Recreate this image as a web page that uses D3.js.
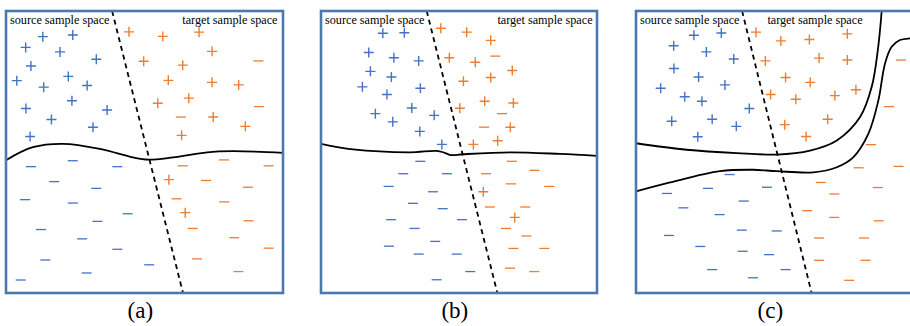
<!DOCTYPE html>
<html>
<head>
<meta charset="utf-8">
<script src="https://cdn.jsdelivr.net/npm/d3@7"></script>
<style>
  html, body { margin: 0; padding: 0; background: #fff; overflow: hidden; }
  svg { display: block; }
</style>
</head>
<body>
<svg id="chart" width="910" height="326"></svg>
<script>
// all coordinates are in a 0-100 "feature space" per panel (u right, v down)
const panelLabels = ["(a)", "(b)", "(c)"];

// ---- panel (a) ----
const aSrcPos = [[13.3,9.1],[24.1,8.5],[7.1,12.9],[19.5,14.5],[32.6,17.1],[9.0,19.5],[3.9,24.7],[22.5,23.2],
  [13.6,27.0],[29.3,26.4],[23.8,31.8],[7.2,34.6],[36.5,35.1],[16.4,38.5],[31.4,41.2],[8.7,44.5]];
const aSrcNeg = [[9.0,55.2],[24.1,53.1],[40.2,55.2],[17.4,60.5],[32.6,62.9],[6.9,66.9],[24.1,68.1],[43.9,71.9],
  [33.0,74.6],[12.6,77.5],[27.5,80.8],[40.2,84.5],[14.2,88.3],[51.7,90.0],[29.1,92.9],[5.3,95.4]];
const aTgtPos = [[44.4,7.4],[56.6,9.0],[69.7,7.5],[74.4,14.3],[49.7,17.8],[63.8,19.2],[58.6,24.6],[74.4,25.3],
  [84.0,26.2],[66.0,30.9],[54.8,32.7],[74.8,37.6],[86.4,40.9],[63.4,44.1],[58.8,59.8],[64.7,71.5]];
const aTgtNeg = [[91.1,17.7],[91.3,33.9],[63.1,37.6],[63.8,54.9],[78.7,52.8],[94.8,54.9],[72.2,60.1],[87.3,62.5],
  [61.6,66.6],[78.8,67.7],[87.6,74.4],[67.4,77.1],[82.4,80.4],[94.8,84.1],[69.0,87.9],[83.9,92.4]];
const aBoundaries = [
  [[0,52.9],[9.7,48.3],[20.6,47.1],[33.9,48.9],[45.8,51.9],[51.3,52.7],[60.3,51.9],[72.6,50.1],[81.9,49.7],[100,50.3]]
];
const aDomainSplit = [[38.3,0],[63.9,100]];

// ---- panel (b) ----
const bSrcPos = [[22.4,7.9],[30.2,7.7],[17.3,14.7],[26.4,16.6],[35.4,17.7],[17.9,21.4],[25.5,23.4],[15.0,26.9],
  [23.9,29.6],[36.0,27.4],[32.9,34.4],[19.7,36.4],[41.0,37.0],[26.0,39.3],[35.8,42.7],[43.8,47.3]];
const bSrcNeg = [[36.0,53.3],[29.8,57.7],[45.6,57.7],[24.5,62.2],[40.6,64.1],[33.3,68.2],[44.1,70.1],[25.4,74.0],
  [51.1,74.0],[33.9,77.1],[41.4,81.7],[24.6,83.4],[35.4,86.2],[49.2,86.2],[54.1,92.4],[41.9,95.3]];
const bTgtPos = [[43.4,6.1],[52.8,7.5],[61.5,10.4],[46.5,16.6],[55.9,18.2],[69.3,21.1],[51.6,24.9],[61.5,23.6],
  [59.3,32.0],[69.7,32.6],[50.3,34.5],[68.6,41.2],[64.0,46.0],[55.2,47.3],[58.8,64.1],[70.2,73.2]];
const bTgtNeg = [[63.2,16.0],[65.6,36.4],[59.1,41.2],[69.1,53.3],[77.3,56.5],[59.8,57.7],[68.8,61.3],[82.7,62.2],
  [61.2,69.5],[74.0,69.5],[67.0,77.1],[74.4,79.8],[69.7,84.2],[80.9,84.2],[68.5,91.2],[77.3,92.4]];
const bBoundaries = [
  [[0,47.1],[11.6,49.1],[32.2,50.1],[41.9,49.6],[44.6,50.2],[47.0,51.1],[51.4,50.8],[68.5,50.1],[86.6,50.7],[100,51.4]]
];
const bDomainSplit = [[38.3,0],[63.9,100]];

// ---- panel (c) ----
const cSrcPos = [[20.9,8.6],[30.8,7.8],[13.6,12.3],[25.4,14.5],[35.3,17.0],[13.7,20.4],[22.6,23.4],[8.9,27.4],
  [32.1,26.2],[17.6,30.4],[23.8,32.0],[40.9,34.6],[12.9,39.1],[27.5,38.4],[36.2,40.9],[22.3,44.6]];
const cSrcNeg = [[33.8,58.0],[11.2,64.7],[26.0,62.9],[47.3,62.5],[38.9,67.4],[17.1,69.8],[30.2,72.2],[38.2,77.7],
  [50.8,78.0],[11.9,79.6],[23.2,83.5],[38.5,85.2],[48.0,86.4],[27.5,91.7],[54.0,91.7],[42.2,94.6]];
const cTgtPos = [[43.3,7.5],[52.3,10.6],[62.6,10.1],[76.3,8.1],[46.7,17.7],[66.1,16.7],[76.3,17.4],[54.0,23.6],
  [62.9,25.3],[48.6,29.6],[57.7,31.3],[71.8,30.0],[79.4,27.9],[53.7,40.3],[69.2,38.4],[61.4,44.5]];
const cTgtNeg = [[95.7,17.4],[91.3,33.9],[84.8,47.4],[80.4,55.6],[94.8,55.1],[66.7,60.8],[71.6,64.9],[87.3,62.6],
  [61.8,70.8],[71.6,73.2],[87.6,74.4],[66.1,80.5],[82.3,80.5],[66.1,88.4],[82.9,88.4],[77.0,95.5]];
const cBoundaries = [
  [[0,46.9],[18.3,49.2],[36.4,50.4],[50.8,50.9],[62.8,49.5],[72.5,45.9],[80.9,37.6],[85.1,26.9],[87.3,13.9],[88.7,0]],
  [[0,64.0],[12.3,60.8],[30.3,56.8],[42.3,56.3],[50.8,56.8],[64.0,57.2],[72.5,55.4],[78.4,51.9],[83.9,43.5],
   [87.5,31.7],[89.9,18.6],[92.3,12.7],[95.3,10.3],[98.9,9.7],[101,9.6]]
];
const cDomainSplit = [[38.3,0],[63.4,100]];

const panels = [
  {left: 6,   width: 277, targetRight: 98,  srcPos: aSrcPos, srcNeg: aSrcNeg, tgtPos: aTgtPos, tgtNeg: aTgtNeg, curves: aBoundaries, split: aDomainSplit},
  {left: 321, width: 276, targetRight: 98.4, srcPos: bSrcPos, srcNeg: bSrcNeg, tgtPos: bTgtPos, tgtNeg: bTgtNeg, curves: bBoundaries, split: bDomainSplit},
  {left: 636, width: 277, targetRight: 81.8, srcPos: cSrcPos, srcNeg: cSrcNeg, tgtPos: cTgtPos, tgtNeg: cTgtNeg, curves: cBoundaries, split: cDomainSplit}
];

const svg = d3.select("#chart");
const frameTop = 11, frameH = 282;
const blue = "#4472c4", orange = "#ed7d31", frameColor = "#4a7aad";
const plusPath = "M-5,0H5M0,-5V5";
const minusPath = "M-5,0H5";
const serif = '"Liberation Serif", "Times New Roman", serif';

panels.forEach((p, i) => {
  const x = d3.scaleLinear().domain([0, 100]).range([p.left, p.left + p.width]);
  const y = d3.scaleLinear().domain([0, 100]).range([frameTop, frameTop + frameH]);
  const g = svg.append("g").attr("class", "panel");

  // points
  const marks = (data, path, color, sw) => g.append("g")
    .selectAll("path")
    .data(data)
    .join("path")
    .attr("transform", d => `translate(${x(d[0])},${y(d[1])})`)
    .attr("d", path)
    .attr("fill", "none")
    .attr("stroke", color)
    .attr("stroke-width", sw);

  marks(p.srcPos, plusPath, blue, 1.4);
  marks(p.tgtPos, plusPath, orange, 1.4);
  marks(p.srcNeg, minusPath, blue, 1.3);
  marks(p.tgtNeg, minusPath, orange, 1.3);

  // decision boundaries
  const line = d3.line().x(d => x(d[0])).y(d => y(d[1])).curve(d3.curveCatmullRom.alpha(0.5));
  g.selectAll(".boundary")
    .data(p.curves)
    .join("path")
    .attr("class", "boundary")
    .attr("d", line)
    .attr("fill", "none")
    .attr("stroke", "#000")
    .attr("stroke-width", 1.8);

  // source / target split
  g.append("path")
    .attr("d", d3.line().x(d => x(d[0])).y(d => y(d[1]))(p.split))
    .attr("fill", "none")
    .attr("stroke", "#000")
    .attr("stroke-width", 1.8)
    .attr("stroke-dasharray", "5,4");

  // frame
  g.append("rect")
    .attr("x", x(0)).attr("y", y(0))
    .attr("width", x(100) - x(0)).attr("height", y(100) - y(0))
    .attr("fill", "none")
    .attr("stroke", frameColor)
    .attr("stroke-width", 2.6);

  // region titles
  g.append("text")
    .attr("x", x(0) + 4).attr("y", 24)
    .style("font-family", serif).style("font-size", "12.2px")
    .text("source sample space");
  g.append("text")
    .attr("x", x(p.targetRight)).attr("y", 24)
    .attr("text-anchor", "end")
    .style("font-family", serif).style("font-size", "12.2px")
    .text("target sample space");

  // panel caption
  g.append("text")
    .attr("x", x(48.5)).attr("y", 318)
    .attr("text-anchor", "middle")
    .style("font-family", serif).style("font-size", "23px")
    .text(panelLabels[i]);
});
</script>
</body>
</html>
